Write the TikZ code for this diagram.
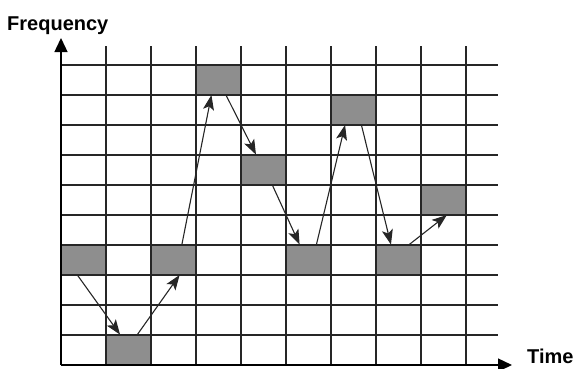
\documentclass[tikz,border=0pt]{standalone}
\usepackage{fontspec}
\setmainfont{Liberation Sans}
\usetikzlibrary{arrows.meta,calc}
\definecolor{boxgray}{RGB}{142,142,142}
\begin{document}
\begin{tikzpicture}[x=1pt,y=-1pt,
  gridline/.style={line width=1.3pt,black!85},
  axisline/.style={line width=1.4pt,black,-{Triangle[length=14pt,width=13pt]}},
  hopbox/.style={draw=none,fill=boxgray,minimum width=45pt,minimum height=30pt,inner sep=0pt,anchor=south west},
  hop/.style={line width=1.1pt,black!85,-{Stealth[length=15pt,width=11pt,inset=3.5pt]}},
  axislabel/.style={font=\fontsize{20}{24}\selectfont\bfseries,inner sep=0pt,anchor=base west}]
\useasboundingbox (0,0) rectangle (576,368);
\def\cw{45}
\def\rh{30}
% boxes
\node[hopbox] (b1) at ({61+0*\cw},{365-3*\rh}) {};
\node[hopbox] (b2) at ({61+1*\cw},{365-0*\rh}) {};
\node[hopbox] (b3) at ({61+2*\cw},{365-3*\rh}) {};
\node[hopbox] (b4) at ({61+3*\cw},{365-9*\rh}) {};
\node[hopbox] (b5) at ({61+4*\cw},{365-6*\rh}) {};
\node[hopbox] (b6) at ({61+5*\cw},{365-3*\rh}) {};
\node[hopbox] (b7) at ({61+6*\cw},{365-8*\rh}) {};
\node[hopbox] (b8) at ({61+7*\cw},{365-3*\rh}) {};
\node[hopbox] (b9) at ({61+8*\cw},{365-5*\rh}) {};
% grid
\foreach \i in {1,...,9} {
  \draw[gridline] ({61+\i*\cw},46) -- ({61+\i*\cw},365);
}
\foreach \j in {1,...,10} {
  \draw[gridline] (61,{365-\j*\rh}) -- (498,{365-\j*\rh});
}
% axes
\coordinate (origin) at (61,365);
\coordinate (ytip) at (61,38);
\coordinate (xtip) at (512,365);
\draw[axisline] (origin) -- (ytip);
\draw[axisline] (origin) -- (xtip);
\node[axislabel] (freq) at (7,30) {Frequency};
\node[axislabel] (time) at (527,363) {Time};
% hops
\draw[hop] ($(b1.south west)!0.36!(b1.south east)$) -- ($(b2.north west)!0.31!(b2.north east)$);
\draw[hop] ($(b2.north west)!0.69!(b2.north east)$) -- ($(b3.south west)!0.63!(b3.south east)$);
\draw[hop] ($(b3.north west)!0.68!(b3.north east)$) -- ($(b4.south west)!0.34!(b4.south east)$);
\draw[hop] ($(b4.south west)!0.66!(b4.south east)$) -- ($(b5.north west)!0.33!(b5.north east)$);
\draw[hop] ($(b5.south west)!0.69!(b5.south east)$) -- ($(b6.north west)!0.30!(b6.north east)$);
\draw[hop] ($(b6.north west)!0.67!(b6.north east)$) -- ($(b7.south west)!0.31!(b7.south east)$);
\draw[hop] ($(b7.south west)!0.67!(b7.south east)$) -- ($(b8.north west)!0.33!(b8.north east)$);
\draw[hop] ($(b8.north west)!0.73!(b8.north east)$) -- ($(b9.south west)!0.57!(b9.south east)$);
\end{tikzpicture}
\end{document}
